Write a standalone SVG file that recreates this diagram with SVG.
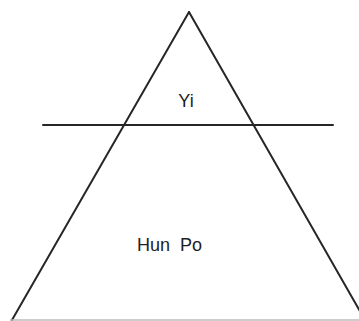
<svg xmlns="http://www.w3.org/2000/svg" width="359" height="321" viewBox="0 0 359 321">
<style>
.ln{stroke:#262626;stroke-width:2;fill:none;stroke-linecap:round}
.lbl{font-family:"Liberation Sans",Arial,sans-serif;font-size:18px;fill:#1e1e1e}
</style>
<rect width="359" height="321" fill="#fff"/>
<g id="connectors">
<line class="ln" x1="189" y1="12" x2="12" y2="320"/>
<line class="ln" x1="189" y1="12" x2="365" y2="320"/>
<line class="ln" x1="43" y1="125" x2="333" y2="125"/>
<line x1="10" y1="320" x2="359" y2="320" stroke="#bbb" stroke-width="1.5"/>
</g>
<g id="yi"><text class="lbl" x="186" y="107" text-anchor="middle">Yi</text></g>
<g id="hunpo"><text class="lbl" y="251"><tspan x="137">Hun</tspan><tspan x="180">Po</tspan></text></g>
</svg>
